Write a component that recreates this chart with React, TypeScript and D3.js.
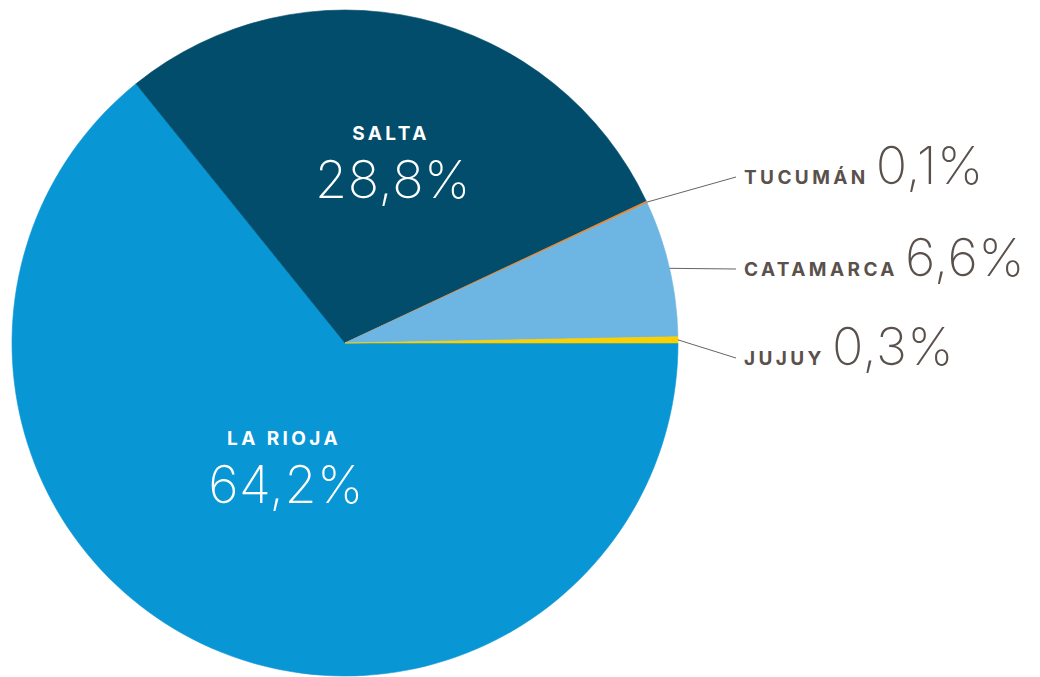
import React from "react";
import * as d3 from "d3";

const provinces = ["LA RIOJA", "SALTA", "TUCUMÁN", "CATAMARCA", "JUJUY"];
const shares = [64.2, 28.8, 0.1, 6.6, 0.3];
const shareLabels = ["64,2%", "28,8%", "0,1%", "6,6%", "0,3%"];
const colors = ["#0896d5", "#024d6b", "#f0872e", "#6db6e3", "#fdd000"];

const W = 1040;
const H = 677;
const cx = 345;
const cy = 343;
const R = 333;

const insideLabel: Record<number, { x: number; y: number }> = {
  0: { x: 284, y: 445 },
  1: { x: 391, y: 140 },
};
const outsideLabelY: Record<number, number> = { 2: 177, 3: 269, 4: 358 };
const outsideX = 744;

export default function App() {
  const pie = d3
    .pie<number>()
    .sort(null)
    .startAngle(Math.PI / 2)
    .endAngle(Math.PI / 2 + 2 * Math.PI)
    .value((d) => d);
  const arcs = pie(shares);
  const arc = d3.arc<d3.PieArcDatum<number>>().innerRadius(0).outerRadius(R);

  const labelFont = "Inter, 'Open Sans', sans-serif";
  const numFont = "Inter, 'Open Sans', sans-serif";

  return (
    <svg
      width={W}
      height={H}
      style={{ position: "absolute", left: 0, top: 0, background: "#fff" }}
    >
      <g transform={`translate(${cx},${cy})`}>
        {arcs.map((a, i) => (
          <path key={i} d={arc(a) || ""} fill={colors[i]} stroke={colors[i]} strokeWidth={0.6} />
        ))}
      </g>
      {arcs.map((a, i) => {
        if (insideLabel[i]) {
          const p = insideLabel[i];
          return (
            <g key={"in" + i}>
              <text
                x={p.x}
                y={p.y}
                textAnchor="middle"
                fill="#fff"
                fontFamily={labelFont}
                fontWeight={700}
                fontSize={19}
                letterSpacing={3.4}
              >
                {provinces[i]}
              </text>
              <text
                x={p.x + 2}
                y={p.y + 58}
                textAnchor="middle"
                fill="#fff"
                fontFamily={numFont}
                fontWeight={200}
                fontSize={52}
                letterSpacing={0.5}
              >
                {shareLabels[i]}
              </text>
            </g>
          );
        }
        const mid = (a.startAngle + a.endAngle) / 2;
        const sx = cx + R * Math.sin(mid);
        const sy = cy - R * Math.cos(mid);
        const ly = outsideLabelY[i];
        return (
          <g key={"out" + i}>
            <line x1={sx} y1={sy} x2={outsideX - 8} y2={ly} stroke="#6b635f" strokeWidth={1} />
            <text
              x={outsideX}
              y={ly + 7}
              fill="#5b514c"
              fontFamily={numFont}
              fontSize={52}
              fontWeight={200}
              letterSpacing={0.5}
            >
              <tspan
                fontFamily={labelFont}
                fontWeight={700}
                fontSize={19}
                letterSpacing={3.4}
              >
                {provinces[i]}
              </tspan>
              <tspan dx={7}>{shareLabels[i]}</tspan>
            </text>
          </g>
        );
      })}
    </svg>
  );
}
